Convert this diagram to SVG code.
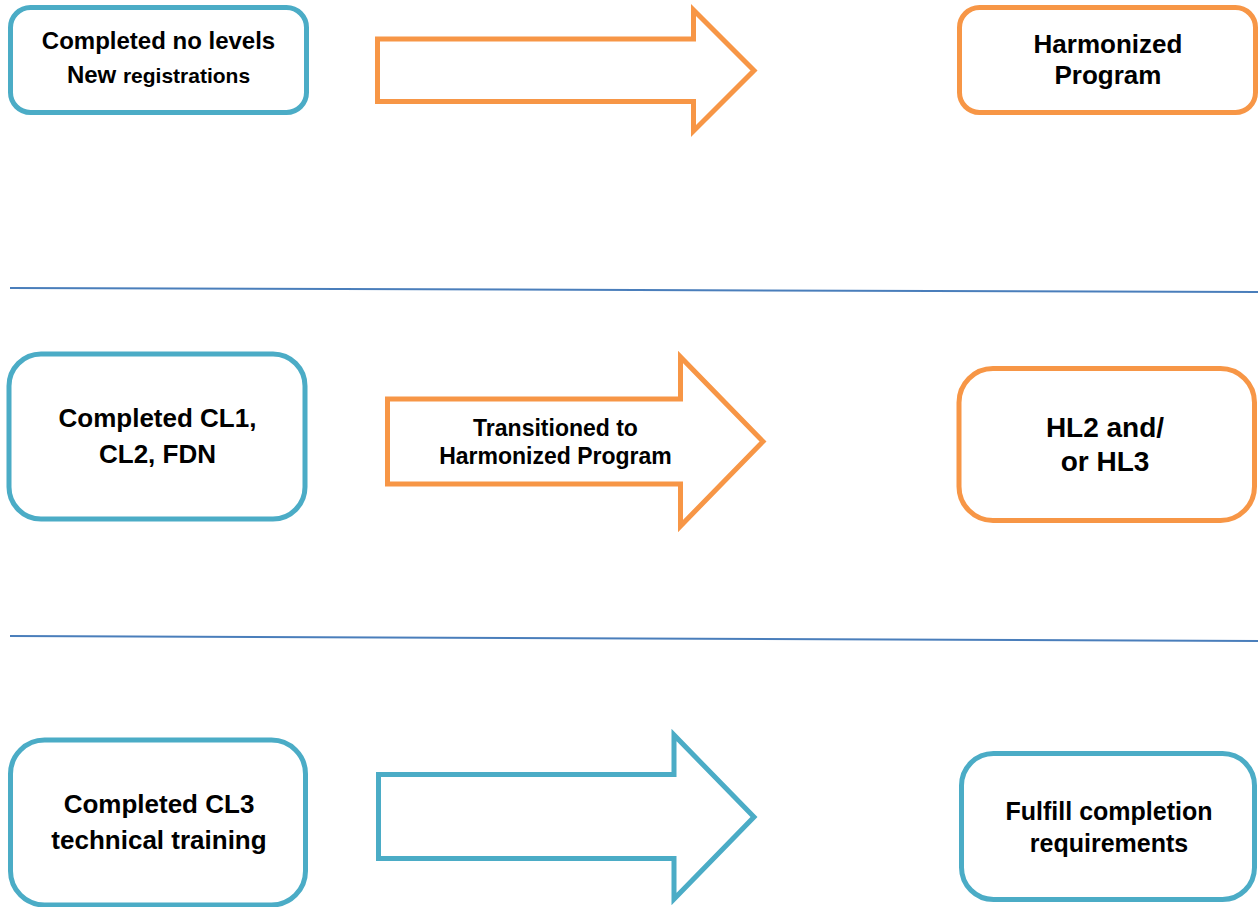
<svg xmlns="http://www.w3.org/2000/svg" width="1258" height="907" viewBox="0 0 1258 907">
<style>
.t{font-family:"Liberation Sans",Arial,sans-serif;font-weight:bold;fill:#000;text-anchor:middle}
.bb{fill:#fff;stroke:#4bacc6;stroke-width:5}
.ob{fill:#fff;stroke:#f79646;stroke-width:5}
.sep{stroke:#4a7ebb;stroke-width:2;fill:none}
</style>
<rect width="1258" height="907" fill="#fff"/>
<g id="separators">
<line class="sep" x1="10" y1="288" x2="1258" y2="292"/>
<line class="sep" x1="10" y1="636" x2="1258" y2="641"/>
</g>
<g id="node-no-levels">
<rect class="bb" x="10.5" y="7.5" width="296" height="105" rx="20"/>
<text class="t" x="158.5" y="49" font-size="24">Completed no levels</text>
<text class="t" x="158.5" y="83"><tspan font-size="24">New </tspan><tspan font-size="21">registrations</tspan></text>
</g>
<g id="node-harmonized">
<rect class="ob" x="959.5" y="7.5" width="296" height="105" rx="20"/>
<text class="t" x="1108" y="53" font-size="26">Harmonized</text>
<text class="t" x="1108" y="84" font-size="26">Program</text>
</g>
<g id="node-cl1">
<rect class="bb" x="9" y="354" width="296" height="165" rx="32"/>
<text class="t" x="157.5" y="427" font-size="26">Completed CL1,</text>
<text class="t" x="157.5" y="463" font-size="26">CL2, FDN</text>
</g>
<g id="node-hl2">
<rect class="ob" x="959" y="368.5" width="295.5" height="152" rx="34"/>
<text class="t" x="1105" y="437" font-size="28">HL2 and/</text>
<text class="t" x="1105" y="471" font-size="28">or HL3</text>
</g>
<g id="node-cl3">
<rect class="bb" x="10.5" y="740" width="295" height="165" rx="34"/>
<text class="t" x="159" y="813" font-size="26">Completed CL3</text>
<text class="t" x="159" y="849" font-size="26">technical training</text>
</g>
<g id="node-fulfill">
<rect class="bb" x="961.5" y="753.5" width="293" height="146" rx="32"/>
<text class="t" x="1109" y="820" font-size="25">Fulfill completion</text>
<text class="t" x="1109" y="852" font-size="25">requirements</text>
</g>
<g id="connectors">
<path class="ob" d="M377.5,39 H693.5 V10 L754,70.5 L693.5,131 V101.5 H377.5 Z"/>
<path class="ob" d="M387.5,399 H680.5 V357 L763,441.5 L680.5,526 V484 H387.5 Z"/>
<text class="t" x="555.5" y="436" font-size="23">Transitioned to</text>
<text class="t" x="555.5" y="464" font-size="23">Harmonized Program</text>
<path class="bb" d="M378.5,774.5 H674 V735 L754,817 L674,899 V858.5 H378.5 Z"/>
</g>
</svg>
